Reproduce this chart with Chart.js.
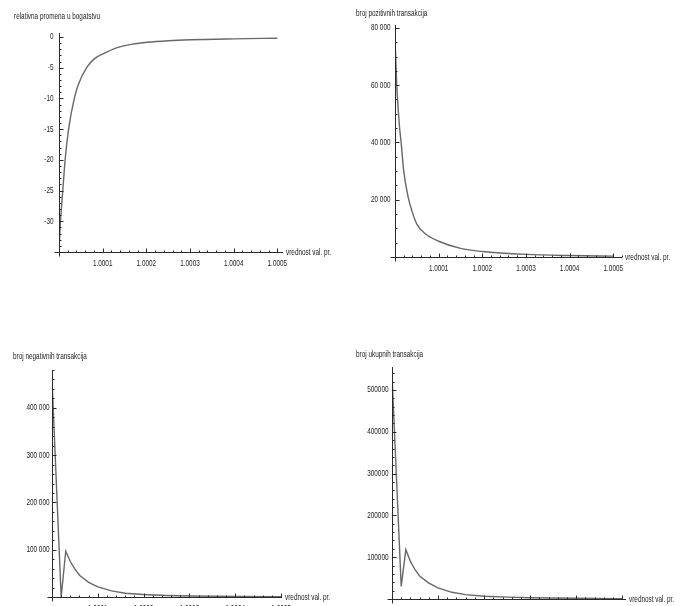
<!DOCTYPE html>
<html>
<head>
<meta charset="utf-8">
<script src="https://cdn.jsdelivr.net/npm/chart.js@4.4.0/dist/chart.umd.min.js"></script>
<style>
  body { margin: 0; background: #fff; }
  .sheet { position: relative; width: 686px; height: 606px; overflow: hidden; }
  .sheet canvas { position: absolute; }
</style>
</head>
<body>
<div class="sheet">
  <canvas id="wealth" width="343" height="280" style="left:0;top:0"></canvas>
  <canvas id="positive" width="343" height="280" style="left:343px;top:0"></canvas>
  <canvas id="negative" width="343" height="306" style="left:0;top:300px"></canvas>
  <canvas id="total" width="343" height="306" style="left:343px;top:300px"></canvas>
</div>
<script>
// relativna promena u bogatstvu
const wealthX = [1.0, 1.0000034, 1.0000087, 1.000014, 1.000022, 1.000035, 1.000045, 1.000064, 1.00008,
  1.000102, 1.00013, 1.000169, 1.000202, 1.00025, 1.0003, 1.0004, 1.0005];
const wealthY = [-34.8, -30, -25, -20, -15, -10, -7.6, -4.9, -3.6,
  -2.7, -1.8, -1.15, -0.85, -0.6, -0.45, -0.3, -0.2];

// broj pozitivnih transakcija
const posX = [1.0, 1.000004, 1.00001, 1.000014, 1.00002, 1.00003, 1.00004, 1.00005, 1.00007,
  1.0001, 1.00015, 1.0002, 1.0003, 1.0004, 1.0005];
const posY = [77000, 60000, 46000, 40000, 30000, 21000, 15500, 11500, 8000,
  5500, 3000, 1900, 900, 500, 300];

// negative and total counts share the same sample points
const txX = [1.0, 1.00002, 1.00003, 1.00004, 1.00005, 1.00006, 1.00008, 1.0001,
  1.00013, 1.00016, 1.0002, 1.00025, 1.0003, 1.0004, 1.0005];
const negY = [460000, 0, 97000, 75000, 59000, 46000, 31000, 21500,
  13000, 8000, 5200, 3300, 2200, 1200, 700];
const totY = [535000, 30000, 118000, 90000, 70000, 55000, 38000, 26500,
  16000, 10500, 6500, 4500, 3000, 1700, 1000];

const X_NAME = 'vrednost val. pr.';
const X_STEP = 0.00002;   // minor tick spacing on every x axis
const FONT = "9px 'Liberation Sans', Arial, sans-serif";
const SQUEEZE = 0.71;     // narrow lettering
const INK = '#222';

function squeezedText(ctx, txt, x, y, align) {
  ctx.save();
  ctx.translate(x, y);
  ctx.scale(SQUEEZE, 1);
  ctx.textAlign = align;
  ctx.textBaseline = 'middle';
  ctx.fillText(txt, 0, 0);
  ctx.restore();
}

// evenly spaced ticks between the scale bounds
function stepTicks(scale, step) {
  const out = [];
  for (let i = Math.ceil(scale.min / step - 1e-6); i * step <= scale.max + step * 1e-6; i++) {
    out.push({ value: +(i * step).toFixed(8) });
  }
  scale.ticks = out;
}

// axes crossing at the origin, inward ticks, tick labels and axis names
const mathAxes = {
  id: 'mathAxes',
  afterDraw(chart, args, opts) {
    const { ctx, chartArea: a, scales: { x, y } } = chart;
    ctx.save();
    ctx.strokeStyle = '#2a2a2a';
    ctx.lineWidth = 1;
    ctx.beginPath();
    const bx = Math.round(a.left) + 0.5, by = Math.round(a.bottom) + 0.5;
    ctx.moveTo(bx - 5, by); ctx.lineTo(a.right, by);
    ctx.moveTo(bx, a.top); ctx.lineTo(bx, by + 4);
    x.ticks.forEach(t => {
      const px = Math.round(x.getPixelForValue(t.value)) + 0.5;
      ctx.moveTo(px, by); ctx.lineTo(px, by - (t.label ? 4 : 2));
    });
    y.ticks.forEach(t => {
      const py = Math.round(y.getPixelForValue(t.value)) + 0.5;
      ctx.moveTo(bx, py); ctx.lineTo(bx + (t.label ? 4 : 2), py);
    });
    ctx.stroke();

    ctx.fillStyle = INK;
    ctx.font = FONT;
    x.ticks.forEach(t => {
      if (t.label) squeezedText(ctx, t.label, x.getPixelForValue(t.value), by + 11, 'center');
    });
    y.ticks.forEach(t => {
      if (t.label) squeezedText(ctx, t.label, bx - opts.labelGap, y.getPixelForValue(t.value), 'right');
    });
    squeezedText(ctx, opts.yName, opts.nameX, opts.nameY, 'left');
    squeezedText(ctx, X_NAME, a.right + 3, by, 'left');
    ctx.restore();
  }
};

const xLabel = v => {
  const k = Math.round((v - 1) * 1e5);
  return k > 0 && k % 10 === 0 ? v.toFixed(4) : '';
};

function plot(id, xs, ys, o) {
  return new Chart(document.getElementById(id), {
    type: 'line',
    data: {
      datasets: [{
        data: xs.map((x, i) => ({ x, y: ys[i] })),
        borderColor: '#686868',
        borderWidth: 1.4,
        pointRadius: 0,
        tension: 0,
        cubicInterpolationMode: o.smooth ? 'monotone' : 'default'
      }]
    },
    options: {
      responsive: false,
      animation: false,
      events: [],
      layout: { padding: o.pad },
      plugins: {
        legend: { display: false },
        tooltip: { enabled: false },
        mathAxes: { yName: o.yName, nameX: o.nameX, nameY: o.nameY, labelGap: o.labelGap }
      },
      scales: {
        x: {
          type: 'linear',
          min: 1,
          max: o.xMax,
          grid: { display: false, drawTicks: false },
          border: { display: false },
          ticks: { display: false, autoSkip: false, callback: xLabel },
          afterBuildTicks: s => stepTicks(s, X_STEP),
          afterFit: s => { s.height = o.xHeight; }
        },
        y: {
          min: o.yMin,
          max: o.yMax,
          grid: { display: false, drawTicks: false },
          border: { display: false },
          ticks: {
            display: false, autoSkip: false,
            callback: v => (v !== o.yMin && v % o.yMajor === 0) ? o.fmt(v) : ''
          },
          afterBuildTicks: s => stepTicks(s, o.yStep),
          afterFit: s => { s.width = o.yWidth; }
        }
      }
    },
    plugins: [mathAxes]
  });
}

const spaced = v => String(v).replace(/\B(?=(\d{3})+(?!\d))/g, ' ');

plot('wealth', wealthX, wealthY, {
  smooth: true, yName: 'relativna promena u bogatstvu', nameX: 14, nameY: 17, labelGap: 6,
  pad: { left: 0, top: 33, right: 60, bottom: 8 }, xHeight: 20, yWidth: 59,
  xMax: 1.000513, yMin: -35, yMax: 0.65, yStep: 1, yMajor: 5, fmt: v => String(v)
});

plot('positive', posX, posY, {
  smooth: true, yName: 'broj pozitivnih transakcija', nameX: 13, nameY: 14, labelGap: 5,
  pad: { left: 0, top: 25, right: 64, bottom: 3 }, xHeight: 20, yWidth: 52,
  xMax: 1.00052, yMin: 0, yMax: 81000, yStep: 5000, yMajor: 20000, fmt: spaced
});

plot('negative', txX, negY, {
  smooth: false, yName: 'broj negativnih transakcija', nameX: 13, nameY: 57, labelGap: 3,
  pad: { left: 0, top: 70, right: 61, bottom: 0 }, xHeight: 9, yWidth: 52,
  xMax: 1.000502, yMin: 0, yMax: 480000, yStep: 20000, yMajor: 100000, fmt: spaced
});

plot('total', txX, totY, {
  smooth: false, yName: 'broj ukupnih transakcija', nameX: 13, nameY: 55, labelGap: 4,
  pad: { left: 0, top: 67, right: 60, bottom: 0 }, xHeight: 7, yWidth: 49,
  xMax: 1.000508, yMin: 0, yMax: 555000, yStep: 20000, yMajor: 100000, fmt: v => String(v)
});
</script>
</body>
</html>
